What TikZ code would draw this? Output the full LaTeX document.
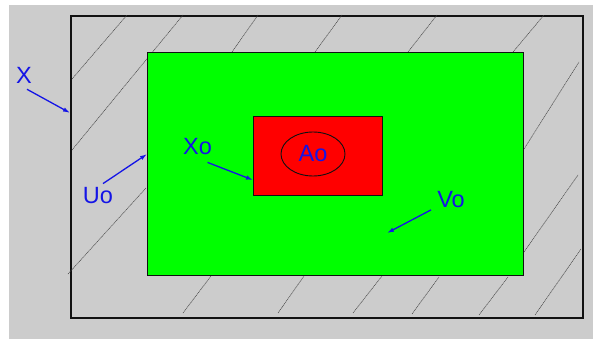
\documentclass[tikz,border=0pt]{standalone}
\usepackage{fontspec}
\setmainfont{Liberation Sans}
\usepackage{xcolor}
\usetikzlibrary{positioning, arrows.meta, shapes.geometric}
\definecolor{rgBack}{HTML}{CCCCCC}
\definecolor{rgGreen}{HTML}{00FF00}
\definecolor{rgRed}{HTML}{FF0000}
\definecolor{rgBlue}{HTML}{1414E6}
\definecolor{rgInk}{HTML}{111111}
\definecolor{rgHatch}{HTML}{444444}
\tikzset{
  region/.style ={draw=rgInk, inner sep=0pt, anchor=north west},
  hatch/.style  ={draw=rgHatch, line width=0.5pt, dash pattern=on 1.2pt off 0.6pt},
  lbl/.style    ={text=rgBlue, inner sep=0pt, font=\fontsize{23.5}{26}\selectfont},
  arr/.style    ={-{Latex[length=7pt,width=4.5pt]}, line width=1.3pt, rgBlue},
}
\begin{document}
\begin{tikzpicture}[x=1pt, y=-1pt]
\useasboundingbox (0,0) rectangle (593,339);
\fill[rgBack] (9,5) rectangle (593,339);

% ---- outer set X with hatching ----
\node[region, line width=1.8pt, minimum width=512pt, minimum height=302pt] (outer) at (70,15) {};
\draw[hatch] (72,79) -- (127,15)  (72,150) -- (183,15)  (68,274) -- (146,188)
             (232,52) -- (258,15)  (315,52) -- (342,15)  (408,52) -- (437,15)  (513,52) -- (544,15)
             (524,149) -- (579,62)  (524,252) -- (578,175)  (535,315) -- (581,249)
             (183,313) -- (211,276)  (278,313) -- (304,276)  (353,313) -- (382,276)
             (412,314) -- (439,277)  (479,315) -- (508,277);

% ---- open neighbourhoods ----
\node[region, fill=rgGreen, line width=1.2pt, minimum width=376pt, minimum height=223pt] (uo) at (147,52) {};
\node[region, fill=rgRed, line width=1.1pt, minimum width=129pt, minimum height=79pt] (xo) at (253,116) {};
\node[ellipse, draw=rgInk, line width=0.9pt, minimum width=64pt, minimum height=44pt, inner sep=0pt,
      text=rgBlue, font=\fontsize{23.5}{26}\selectfont] (ao) at (313,154) {Ao};

% ---- labels ----
\node[lbl] (labX)  at (24,75)    {X};
\node[lbl] (labUo) at (98,196)   {Uo};
\node[lbl] (labXo) at (197.5,147){Xo};
\node[lbl] (labVo) at (451,199.5){Vo};
\coordinate (votip) at (387,233);

\draw[arr] ([xshift=3pt,yshift=-6pt]labX.south) -- ([yshift=54pt]outer.west);
\draw[arr] ([xshift=5pt,yshift=4pt]labUo.north) -- ([yshift=10pt]uo.west);
\draw[arr] ([xshift=10pt,yshift=-7pt]labXo.south) -- ([yshift=-24pt]xo.west);
\draw[arr] ([xshift=-20pt,yshift=-2pt]labVo.south) -- (votip);
\end{tikzpicture}
\end{document}
